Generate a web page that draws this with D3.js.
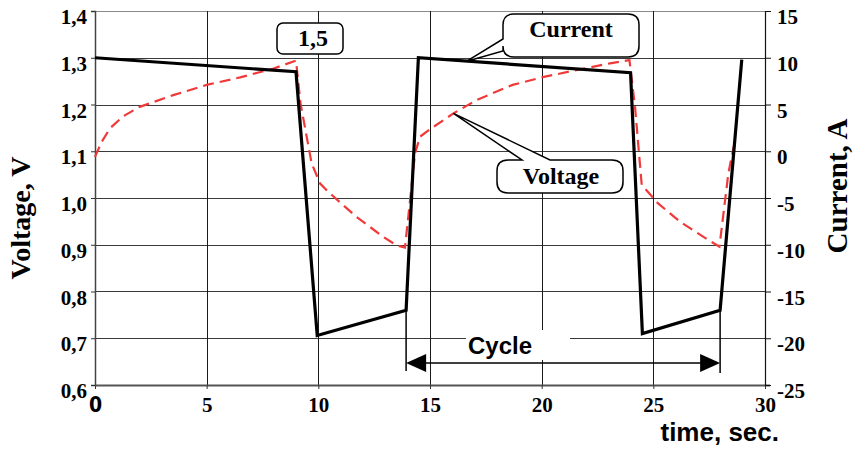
<!DOCTYPE html>
<html>
<head>
<meta charset="utf-8">
<script src="https://cdn.jsdelivr.net/npm/d3@7/dist/d3.min.js"></script>
<style>
  html, body { margin: 0; padding: 0; background: #fff; }
  svg { display: block; }
</style>
</head>
<body>
<svg id="chart" width="856" height="449"></svg>
<script>
// ---------- data ----------
const currentTime   = [0, 9.0, 9.95, 13.93, 14.48, 23.98, 24.51, 27.99, 28.96];
const currentValues = [10, 8.5, -19.7, -17.0, 10.0, 8.4, -19.5, -17.0, 9.8];

const voltageTime   = [0, 0.3, 0.67, 1.27, 2.0, 3.5, 5.0, 6.5, 8.0, 9.0,
                       9.2, 9.7, 10.08, 10.45, 11.7, 12.9, 13.5, 13.88,
                       14.33, 14.55, 15.0, 16.05, 17.1, 18.7, 20.1, 21.6, 23.06, 23.93,
                       24.18, 24.48, 25.2, 26.2, 27.47, 27.96, 28.36, 28.6];
const voltageValues = [1.088, 1.12, 1.149, 1.175, 1.195, 1.22, 1.242, 1.258, 1.277, 1.294,
                       1.203, 1.074, 1.031, 1.013, 0.96, 0.917, 0.899, 0.894,
                       1.095, 1.131, 1.147, 1.181, 1.21, 1.242, 1.259, 1.274, 1.288, 1.295,
                       1.195, 1.028, 0.989, 0.949, 0.910, 0.896, 1.053, 1.11];

const timeTicks    = [0, 5, 10, 15, 20, 25, 30];
const voltageTicks = [0.6, 0.7, 0.8, 0.9, 1.0, 1.1, 1.2, 1.3, 1.4];
const currentTicks = [-25, -20, -15, -10, -5, 0, 5, 10, 15];

const labels = {
  xTitle: "time, sec.",
  yLeftTitle: "Voltage, V",
  yRightTitle: "Current, A",
  current: "Current",
  voltage: "Voltage",
  cycle: "Cycle",
  note: "1,5"
};
const currentCalloutAt = 16.65;   // time where "Current" callout points
const voltageCalloutIdx = 21;     // voltage point (t = 16.05) the "Voltage" callout points to

// ---------- layout ----------
const svg = d3.select("#chart");
const pL = 95, pR = 765, pT = 11, pB = 385;

const x  = d3.scaleLinear().domain([0, 30]).range([pL, pR]);
const yV = d3.scaleLinear().domain([0.6, 1.4]).range([pB, pT]);
const yI = d3.scaleLinear().domain([-25, 15]).range([pB, pT]);

const serif = "'Liberation Serif','Times New Roman',serif";
const sans  = "'Liberation Sans',Arial,sans-serif";
const comma = v => d3.format(".1f")(v).replace(".", ",");
const plain = v => String(v);

// grid
const grid = svg.append("g");
grid.selectAll("line.h").data(voltageTicks.filter(v => v > 0.6))
  .join("line")
  .attr("x1", pL).attr("x2", pR)
  .attr("y1", d => Math.round(yV(d)) + 0.5).attr("y2", d => Math.round(yV(d)) + 0.5)
  .attr("stroke", d => d === 1.4 ? "#8a8a8a" : "#3a3a3a").attr("stroke-width", 1.2);
grid.selectAll("line.v").data(timeTicks.filter(t => t > 0 && t < 30))
  .join("line")
  .attr("x1", d => Math.round(x(d)) + 0.5).attr("x2", d => Math.round(x(d)) + 0.5)
  .attr("y1", pT).attr("y2", pB)
  .attr("stroke", "#1a1a1a").attr("stroke-width", 1);

// axes
const xAxis = svg.append("g").attr("transform", `translate(0,${pB})`)
  .call(d3.axisBottom(x).tickValues(timeTicks).tickSize(4).tickFormat(plain));
xAxis.select(".domain").attr("stroke", "#555").attr("stroke-width", 2).attr("d", `M${pL},0.5H${pR + 5}`);
xAxis.selectAll(".tick line").attr("stroke", "#333");
xAxis.selectAll(".tick text")
  .attr("y", 12).attr("dy", "0.71em")
  .attr("fill", "#000")
  .style("font-family", d => d === 0 ? "'DejaVu Sans Condensed','Liberation Sans Narrow',sans-serif" : serif)
  .style("font-weight", "bold").style("font-size", "21px");

const yAxisL = svg.append("g").attr("transform", `translate(${pL},0)`)
  .call(d3.axisLeft(yV).tickValues(voltageTicks).tickSize(4).tickFormat(comma));
yAxisL.select(".domain").attr("stroke", "#444").attr("stroke-width", 1.5);
yAxisL.selectAll(".tick line").attr("stroke", "#333");
yAxisL.selectAll(".tick text")
  .attr("x", -8).attr("dy", "0.6em")
  .attr("fill", "#000")
  .style("font-family", serif).style("font-weight", "bold").style("font-size", "21px");

const yAxisR = svg.append("g").attr("transform", `translate(${pR},0)`)
  .call(d3.axisRight(yI).tickValues(currentTicks).tickSize(6).tickFormat(plain));
yAxisR.select(".domain").attr("stroke", "#111").attr("stroke-width", 1.2);
yAxisR.selectAll(".tick line").attr("stroke", "#111");
yAxisR.selectAll(".tick text")
  .attr("x", 12).attr("dy", "0.6em")
  .attr("fill", "#000")
  .style("font-family", serif).style("font-weight", "bold").style("font-size", "21px");

// axis titles
svg.append("text")
  .attr("transform", `translate(30,${(pT + pB) / 2 + 20}) rotate(-90)`)
  .attr("text-anchor", "middle")
  .style("font-family", serif).style("font-weight", "bold").style("font-size", "28px")
  .text(labels.yLeftTitle);
svg.append("text")
  .attr("transform", `translate(847,${(pT + pB) / 2 - 12}) rotate(-90)`)
  .attr("text-anchor", "middle")
  .style("font-family", serif).style("font-weight", "bold").style("font-size", "29px")
  .text(labels.yRightTitle);
svg.append("text")
  .attr("x", 779).attr("y", 441).attr("text-anchor", "end")
  .style("font-family", sans).style("font-weight", "bold").style("font-size", "26px")
  .text(labels.xTitle);

// series
const voltageData = voltageTime.map((t, i) => ({ t, v: voltageValues[i] }));
const currentData = currentTime.map((t, i) => ({ t, v: currentValues[i] }));

svg.append("path")
  .datum(voltageData)
  .attr("fill", "none")
  .attr("stroke", "#f03a3a").attr("stroke-width", 2.2)
  .attr("stroke-dasharray", "11,6")
  .attr("d", d3.line().x(d => x(d.t)).y(d => yV(d.v)));

svg.append("path")
  .datum(currentData)
  .attr("fill", "none")
  .attr("stroke", "#000").attr("stroke-width", 3.2)
  .attr("stroke-linejoin", "miter")
  .attr("d", d3.line().x(d => x(d.t)).y(d => yI(d.v)));

// ---------- annotations ----------
// "1,5" box
const noteG = svg.append("g");
noteG.append("rect")
  .attr("x", 277).attr("y", 23).attr("width", 66).attr("height", 31).attr("rx", 6)
  .attr("fill", "#fff").attr("stroke", "#000").attr("stroke-width", 1.5);
noteG.append("text")
  .attr("x", 313).attr("y", 46).attr("text-anchor", "middle")
  .style("font-family", serif).style("font-weight", "bold").style("font-size", "24px")
  .text(labels.note);

// callout helper: rounded box with a wedge tail
function callout(box, tail, tip, side) {
  const { x0, y0, x1, y1, r } = box;
  if (side === "left") {
    return `M${x0 + r},${y0} H${x1 - r} Q${x1},${y0} ${x1},${y0 + r} V${y1 - r} Q${x1},${y1} ${x1 - r},${y1}` +
        ` H${x0 + r} Q${x0},${y1} ${x0},${y1 - r} V${tail[1]} L${tip[0]},${tip[1]} L${x0},${tail[0]} V${y0 + r} Q${x0},${y0} ${x0 + r},${y0} Z`;
  }
  return `M${x0 + r},${y0} H${tail[0]} L${tip[0]},${tip[1]} L${tail[1]},${y0} H${x1 - r} Q${x1},${y0} ${x1},${y0 + r} V${y1 - r} Q${x1},${y1} ${x1 - r},${y1}` +
      ` H${x0 + r} Q${x0},${y1} ${x0},${y1 - r} V${y0 + r} Q${x0},${y0} ${x0 + r},${y0} Z`;
}

// Current callout
const curTipY = yI(d3.scaleLinear().domain([currentTime[4], currentTime[5]]).range([currentValues[4], currentValues[5]])(currentCalloutAt));
svg.append("path")
  .attr("d", callout({ x0: 503, y0: 14, x1: 639, y1: 57, r: 11 }, [39, 51], [x(currentCalloutAt), curTipY], "left"))
  .attr("fill", "#fff").attr("stroke", "#000").attr("stroke-width", 1.5);
svg.append("text")
  .attr("x", 571).attr("y", 37).attr("text-anchor", "middle")
  .style("font-family", serif).style("font-weight", "bold").style("font-size", "24px")
  .text(labels.current);

// Voltage callout
const vPt = voltageData[voltageCalloutIdx];
svg.append("path")
  .attr("d", callout({ x0: 497, y0: 160, x1: 623, y1: 193, r: 11 }, [522, 550], [x(vPt.t), yV(vPt.v)], "top"))
  .attr("fill", "#fff").attr("stroke", "#000").attr("stroke-width", 1.5);
svg.append("text")
  .attr("x", 561).attr("y", 184).attr("text-anchor", "middle")
  .style("font-family", serif).style("font-weight", "bold").style("font-size", "24px")
  .text(labels.voltage);

// Cycle dimension
const cx0 = x(currentTime[3]), cx1 = x(currentTime[7]);
const cy = 363;
svg.append("rect").attr("x", 466).attr("y", 330).attr("width", 104).attr("height", 30).attr("fill", "#fff");
svg.append("text")
  .attr("x", 468).attr("y", 354)
  .style("font-family", sans).style("font-weight", "bold").style("font-size", "24px")
  .text(labels.cycle);
const cyc = svg.append("g").attr("stroke", "#000");
cyc.append("line").attr("x1", cx0).attr("x2", cx0).attr("y1", yI(currentValues[3])).attr("y2", 371).attr("stroke-width", 1.5);
cyc.append("line").attr("x1", cx1).attr("x2", cx1).attr("y1", yI(currentValues[7])).attr("y2", 373).attr("stroke-width", 1.5);
cyc.append("line").attr("x1", cx0 + 10).attr("x2", cx1 - 10).attr("y1", cy).attr("y2", cy).attr("stroke-width", 1.5);
svg.append("path").attr("d", `M${cx0},${cy} L${cx0 + 20},${cy - 9} L${cx0 + 20},${cy + 9} Z`).attr("fill", "#000");
svg.append("path").attr("d", `M${cx1},${cy} L${cx1 - 20},${cy - 9} L${cx1 - 20},${cy + 9} Z`).attr("fill", "#000");
</script>
</body>
</html>
